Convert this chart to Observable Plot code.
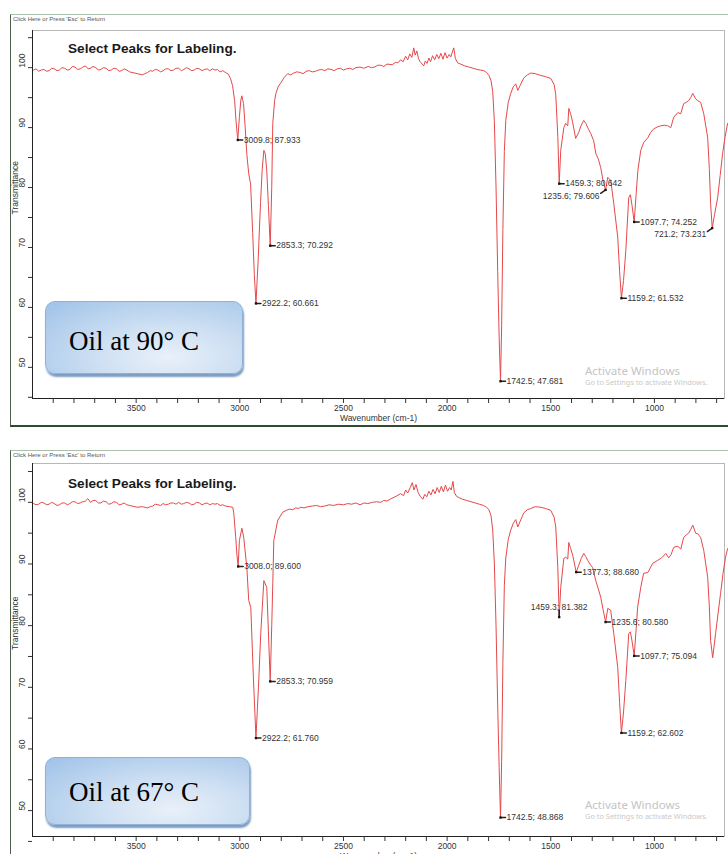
<!DOCTYPE html>
<html><head><meta charset="utf-8">
<script src="https://cdn.jsdelivr.net/npm/d3@7"></script>
<script src="https://cdn.jsdelivr.net/npm/@observablehq/plot@0.6"></script>
<style>
body{margin:0;width:728px;height:854px;overflow:hidden;background:#fff;position:relative;font-family:"Liberation Sans",Arial,sans-serif}
.abs{position:absolute}
.frame{position:absolute;border-top:1px solid #a9c2a9;border-left:1px solid #4d5f4d}
.click{position:absolute;font-size:6px;color:#555;white-space:nowrap}
.title{position:absolute;font-size:13.6px;font-weight:bold;color:#1a1a1a;line-height:1;white-space:nowrap}
.box{position:absolute;border-radius:10px;border:1px solid #8fb1d8;
 background:radial-gradient(ellipse at 62% 78%, #e9f0f9 0%, #d0e1f3 38%, #9fc2e8 100%);
 box-shadow:1px 3px 2px #7d9cc2}
.box span{position:absolute;left:23px;font-family:"Liberation Serif","Times New Roman",serif;font-size:27px;line-height:1;color:#000;white-space:nowrap}
.wm1{position:absolute;font-family:"Noto Sans","Open Sans",sans-serif;font-size:11.5px;color:#c4c4c4;line-height:1;white-space:nowrap}
.wm2{position:absolute;font-family:"Noto Sans","Open Sans",sans-serif;font-size:7.4px;color:#c9c9c9;line-height:1;white-space:nowrap}
</style></head><body>
<div class="frame" style="left:10px;top:14px;width:718px;height:410px;border-bottom:2px solid #2f4a2f"></div>
<div class="frame" style="left:10px;top:450px;width:718px;height:410px"></div>
<div id="p1" class="abs" style="left:0;top:0"></div>
<div id="p2" class="abs" style="left:0;top:436px"></div>
<div class="click" style="left:13px;top:16px">Click Here or Press 'Esc' to Return</div>
<div class="click" style="left:13px;top:452px">Click Here or Press 'Esc' to Return</div>
<div class="title" style="left:68px;top:42px">Select Peaks for Labeling.</div>
<div class="title" style="left:68px;top:477px">Select Peaks for Labeling.</div>
<div class="box" style="left:45px;top:301px;width:196px;height:71px"><span style="top:26px">Oil at 90° C</span></div>
<div class="box" style="left:45px;top:757px;width:203px;height:66px"><span style="top:21px">Oil at 67° C</span></div>
<div class="wm1" style="left:585px;top:365px">Activate Windows</div>
<div class="wm2" style="left:585px;top:379px">Go to Settings to activate Windows.</div>
<div class="wm1" style="left:585px;top:799px">Activate Windows</div>
<div class="wm2" style="left:585px;top:813px">Go to Settings to activate Windows.</div>
<script>
// ---- data ----
const xTickValues = [3900,3800,3700,3600,3500,3400,3300,3200,3100,3000,2900,2800,2700,2600,2500,2400,2300,2200,2100,2000,1900,1800,1700,1600,1500,1400,1300,1200,1100,1000,900,800,700];
const xLabelValues = [3500,3000,2500,2000,1500,1000];
const yTickValues = [45,50,55,60,65,70,75,80,85,90,95,100,105];
const yLabelValues = [50,60,70,80,90,100];

const spectrum90 = [
[3995,99.6],[3983,99.8],[3970,99.4],[3958,99.6],[3945,99.7],[3932,99.4],[3920,99.5],[3908,99.9],[3895,99.8],[3882,99.5],[3870,99.6],[3858,100.0],[3845,99.9],[3832,99.6],[3820,99.7],[3808,100.2],[3795,100.1],[3782,99.7],[3770,99.8],
[3757,100.1],[3745,100.3],[3732,99.8],[3720,99.9],[3708,100.2],[3695,100.0],[3682,99.6],[3670,99.7],[3658,100.0],[3645,99.9],[3632,99.5],[3620,99.6],[3608,99.9],[3595,99.8],[3582,99.4],[3570,99.5],[3558,99.8],[3545,99.6],[3532,99.3],[3520,99.2],
[3495,99.0],[3470,98.8],[3445,99.2],[3432,99.5],[3420,99.4],[3408,99.7],[3395,99.6],[3382,99.3],[3370,99.5],[3358,99.8],[3345,99.8],[3332,99.5],[3320,99.6],[3308,99.9],[3295,99.9],[3282,99.5],[3270,99.7],
[3258,100.0],[3245,99.8],[3232,99.5],[3220,99.6],[3208,99.9],[3195,99.8],[3182,99.5],[3170,99.7],[3158,99.8],[3145,99.5],[3132,99.8],[3120,99.6],[3108,99.7],[3095,99.3],[3082,99.5],[3070,99.2],[3055,98.9],[3045,98.2],
[3035,97.0],[3025,94.5],[3018,91.0],[3009.8,87.933],[3002,91.8],[2995,94.6],[2990,95.3],[2982,94.0],[2975,90.5],[2966,85.5],
[2957,82.3],[2948,80.6],[2938,72.5],[2930,65.5],[2922.2,60.661],[2912,67.5],[2900,77.5],[2892,83.0],[2884,86.2],[2877,85.6],
[2870,82.8],[2862,77.0],[2853.3,70.292],[2846,80.0],[2841,90.7],[2832,94.5],[2826,95.7],[2815,96.8],[2802,97.5],[2785,98.4],
[2769,99.0],[2755,98.8],[2740,99.1],[2725,99.3],[2710,99.2],[2695,99.0],[2680,99.4],[2665,99.5],[2650,99.3],[2635,99.4],[2620,99.6],[2605,99.7],[2590,99.5],[2575,99.8],[2560,99.7],[2545,99.5],[2530,99.8],[2515,99.9],[2500,99.6],
[2485,99.8],[2470,99.9],[2455,99.7],[2440,100.0],[2420,100.1],[2402,99.9],[2380,100.2],[2365,100.0],[2350,100.1],[2335,100.4],[2320,100.4],[2305,100.2],[2290,100.6],[2265,100.5],[2248,100.9],[2238,100.8],
[2225,101.3],[2212,101.0],[2200,101.9],[2190,101.3],[2180,102.3],[2170,101.7],[2161,103.3],[2154,102.1],[2146,102.8],[2138,101.5],
[2130,101.0],[2120,100.6],[2113,100.3],[2105,101.1],[2097,100.7],[2088,101.6],[2080,101.0],[2070,102.0],[2060,101.3],[2050,102.2],
[2040,101.5],[2030,102.4],[2020,101.4],[2010,102.5],[2000,101.6],[1990,102.2],[1982,101.8],[1975,102.6],[1968,103.3],[1960,101.5],
[1949,100.8],[1935,100.6],[1915,100.3],[1895,100.1],[1875,99.9],[1855,99.7],[1840,99.6],[1823,99.5],[1810,99.2],[1798,98.7],
[1788,97.8],[1780,96.0],[1772,91.0],[1764,80.0],[1756,66.0],[1749,55.0],[1742.5,47.681],[1737,57.0],[1731,73.0],[1724,86.0],
[1717,91.2],[1705,94.2],[1693,95.7],[1681,96.8],[1669,97.3],[1659,96.2],[1648,97.0],[1630,98.3],[1613,98.8],[1597,99.1],
[1575,99.0],[1548,98.7],[1525,98.5],[1500,98.2],[1484,97.2],[1476,95.5],[1466,88.5],[1459.3,80.642],[1452,86.2],[1437,90.0],
[1428,90.7],[1418,90.3],[1413,93.2],[1404,92.3],[1394,90.8],[1380,88.2],[1365,89.2],[1353,90.4],[1341,91.2],[1331,90.7],
[1319,89.8],[1307,89.0],[1293,87.8],[1283,85.7],[1271,84.8],[1259,83.3],[1247,81.0],[1235.6,79.606],[1225,81.7],[1211,81.2],
[1196,77.3],[1177,71.7],[1168,66.0],[1159.2,61.532],[1149,64.5],[1138,69.5],[1124,78.3],[1116,78.8],[1108,77.0],[1097.7,74.252],
[1088,79.0],[1080,82.8],[1066,86.2],[1052,87.5],[1032,88.3],[1018,89.2],[1003,89.8],[986,90.1],[969,90.3],[952,90.4],
[936,90.3],[921,90.0],[907,91.7],[887,92.5],[873,92.3],[859,94.0],[847,94.2],[835,94.5],[825,95.0],[815,95.7],
[801,94.8],[791,94.5],[777,94.2],[762,92.3],[743,88.3],[735,83.0],[729,77.3],[721.2,73.231],[710,75.5],[695,78.3],
[683,82.0],[671,85.7],[659,88.5],[647,90.7]
];

const spectrum67 = [
[3995,99.8],[3983,99.6],[3970,99.7],[3958,100.0],[3945,99.9],[3932,99.6],[3920,99.7],[3908,100.0],[3895,99.8],[3882,99.5],[3870,99.6],[3858,99.9],[3845,99.9],[3832,99.6],[3820,99.8],[3808,100.1],[3795,100.1],[3782,99.8],[3770,99.9],
[3757,100.1],[3745,100.2],[3733,100.6],[3720,100.0],[3708,100.3],[3695,100.3],[3682,99.9],[3670,99.9],[3658,100.2],[3645,100.1],[3632,99.7],[3620,99.8],[3608,100.1],[3595,100.0],[3582,99.6],[3570,99.7],[3558,99.9],[3545,99.6],
[3532,99.5],[3520,99.4],[3495,99.2],[3470,99.3],[3445,99.1],[3432,99.3],[3420,99.4],[3408,99.7],[3395,99.6],[3382,99.5],[3370,99.8],[3358,99.6],[3345,99.7],[3332,99.9],[3320,99.9],[3308,99.7],[3295,100.0],
[3282,99.7],[3270,99.8],[3258,100.0],[3245,99.9],[3232,99.6],[3220,99.7],[3208,100.0],[3195,99.9],[3182,99.6],[3170,99.8],[3158,99.9],[3145,99.6],[3132,99.8],[3120,99.7],[3108,99.8],[3095,99.5],[3082,99.6],[3070,99.4],[3050,99.3],
[3034,99.2],[3029,98.2],[3020,94.5],[3014,91.5],[3008.0,89.600],[3002,93.8],[2990,95.8],[2981,94.3],[2966,89.4],[2957,84.1],
[2947,82.9],[2935,72.0],[2922.2,61.760],[2910,70.0],[2899,78.7],[2884,87.3],[2870,86.2],[2862,79.0],[2853.3,70.959],[2846,80.0],
[2841,86.8],[2836,93.8],[2817,97.1],[2793,98.4],[2775,98.7],[2760,98.9],[2745,98.8],[2730,99.1],[2718,99.0],[2706,99.2],[2690,99.1],[2670,99.3],[2650,99.4],[2630,99.5],[2610,99.3],[2590,99.4],
[2570,99.6],[2547,99.5],[2525,99.7],[2500,99.6],[2480,99.8],[2460,99.7],[2440,99.9],[2420,99.6],[2400,99.9],[2383,99.8],[2360,100.0],[2340,100.1],[2320,100.0],[2306,100.3],[2290,100.2],[2270,100.6],[2245,101.0],[2225,101.4],
[2210,101.1],[2200,102.0],[2190,101.5],[2178,102.4],[2168,103.2],[2160,102.0],[2150,102.9],[2140,101.6],[2128,100.9],[2117,100.5],
[2108,101.3],[2098,100.9],[2088,101.8],[2078,101.2],[2068,102.1],[2058,101.4],[2048,102.4],[2038,101.6],[2028,102.6],[2018,101.7],
[2008,102.8],[1998,101.8],[1988,102.4],[1980,102.0],[1972,103.4],[1965,101.6],[1955,101.0],[1940,100.7],[1925,100.5],[1905,100.3],
[1885,100.1],[1865,99.9],[1845,99.7],[1825,99.5],[1810,99.2],[1798,98.8],[1788,97.8],[1780,95.5],[1772,90.0],[1764,80.0],
[1756,67.0],[1749,57.0],[1742.5,48.868],[1737,58.0],[1731,74.0],[1724,86.5],[1717,91.0],[1705,94.0],[1693,95.5],[1681,96.6],
[1669,97.2],[1659,96.0],[1648,96.9],[1630,98.3],[1613,98.8],[1597,99.0],[1575,99.3],[1548,99.2],[1525,99.0],[1500,98.7],
[1484,97.6],[1476,96.0],[1466,89.4],[1459.3,81.382],[1452,86.2],[1437,90.9],[1428,91.1],[1418,90.8],[1413,93.5],[1404,92.5],
[1394,91.4],[1377.3,88.680],[1365,89.8],[1353,90.9],[1341,91.7],[1331,91.2],[1322,90.6],[1307,89.8],[1298,89.4],[1283,87.3],
[1271,86.0],[1259,84.6],[1247,82.5],[1235.6,80.580],[1225,82.8],[1211,82.5],[1196,78.7],[1177,73.2],[1168,67.5],[1159.2,62.602],
[1149,66.0],[1138,71.1],[1124,78.7],[1116,79.0],[1108,77.5],[1097.7,75.094],[1088,79.5],[1081,83.0],[1066,86.2],[1052,88.5],
[1032,88.6],[1018,89.5],[1008,90.1],[984,90.6],[965,91.0],[945,91.7],[931,91.0],[920,91.5],[907,92.7],[887,92.9],
[873,92.4],[859,94.3],[847,94.7],[835,95.0],[825,95.6],[815,96.3],[801,95.0],[791,94.9],[777,94.3],[762,92.2],
[743,87.8],[735,83.0],[729,77.6],[719,74.8],[705,78.7],[693,82.0],[681,85.2],[669,88.5],[657,91.1],[647,92.5]
];

const peakWave90 = [3009.8, 2922.2, 2853.3, 1742.5, 1459.3, 1235.6, 1159.2, 1097.7, 721.2];
const peakTrans90 = [87.933, 60.661, 70.292, 47.681, 80.642, 79.606, 61.532, 74.252, 73.231];
const peakSide90 = ["right","right","right","right","right","left","right","right","left"];

const peakWave67 = [3008.0, 2922.2, 2853.3, 1742.5, 1459.3, 1377.3, 1235.6, 1159.2, 1097.7];
const peakTrans67 = [89.600, 61.760, 70.959, 48.868, 81.382, 88.680, 80.580, 62.602, 75.094];
const peakSide67 = ["right","right","right","right","above","right","right","right","right"];

const xLabel = "Wavenumber (cm-1)";
const yLabel = "Transmittance";

// ---- drawing ----
const seg = {draw(ctx, l){ ctx.moveTo(0,0); ctx.lineTo(0,-l); }};

function panel({spectrum, pw, pt, ps, yDomain, height, marginTop, marginBottom}) {
  const peaks = pw.map((w,i) => ({w, t: pt[i], side: ps[i], label: `${w.toFixed(1)}; ${pt[i].toFixed(3)}`}));
  const R = peaks.filter(p => p.side === "right");
  const L = peaks.filter(p => p.side === "left");
  const A = peaks.filter(p => p.side === "above");
  return Plot.plot({
    width: 728, height, marginLeft: 32, marginRight: 4, marginTop, marginBottom,
    x: {domain: [4000, 662]},
    y: {domain: yDomain},
    style: {fontFamily: '"Liberation Sans", Arial, sans-serif', fontSize: "8.5px", color: "#333", background: "transparent", overflow: "visible"},
    marks: [
      Plot.frame({stroke: "#b8b8b8"}),
      Plot.ruleX([4000], {stroke: "#222"}),
      Plot.ruleY([yDomain[0]], {stroke: "#222"}),
      Plot.axisX({ticks: xTickValues, tickSize: 5, tickPadding: 1, tickFormat: d => xLabelValues.includes(d) ? String(d) : "", label: null}),
      Plot.axisY({ticks: yTickValues, tickSize: 4, tickFormat: () => "", label: null}),
      Plot.text(yLabelValues, {y: d => d, frameAnchor: "left", dx: -10, rotate: -90, text: d => String(d), fill: "#333"}),
      Plot.text([yLabel], {frameAnchor: "left", dx: -17, rotate: -90, text: d => d, fill: "#333"}),
      Plot.text([xLabel], {frameAnchor: "bottom", dy: 22, text: d => d, fill: "#333"}),
      Plot.line(spectrum, {x: d => d[0], y: d => d[1], stroke: "#e5484a", strokeWidth: 1}),
      Plot.vector(R, {x: "w", y: "t", length: 5, rotate: 90, anchor: "start", shape: seg, stroke: "#222"}),
      Plot.vector(L, {x: "w", y: "t", length: 6, rotate: 235, anchor: "start", shape: seg, stroke: "#222"}),
      Plot.vector(A, {x: "w", y: "t", length: 7, rotate: 0, anchor: "start", shape: seg, stroke: "#222"}),
      Plot.dot(peaks, {x: "w", y: "t", r: 1.3, symbol: "square", fill: "#111"}),
      Plot.text(R, {x: "w", y: "t", text: "label", textAnchor: "start", dx: 6, fill: "#333"}),
      Plot.text(L, {x: "w", y: "t", text: "label", textAnchor: "end", dx: -6, dy: 6, fill: "#333"}),
      Plot.text(A, {x: "w", y: "t", text: "label", textAnchor: "middle", dy: -10, fill: "#333"})
    ]
  });
}

document.getElementById("p1").append(panel({
  spectrum: spectrum90, pw: peakWave90, pt: peakTrans90, ps: peakSide90,
  yDomain: [44.8, 106.2], height: 430, marginTop: 30, marginBottom: 32
}));
document.getElementById("p2").append(panel({
  spectrum: spectrum67, pw: peakWave67, pt: peakTrans67, ps: peakSide67,
  yDomain: [45.8, 106.3], height: 430, marginTop: 27, marginBottom: 30
}));
</script>
</body></html>
